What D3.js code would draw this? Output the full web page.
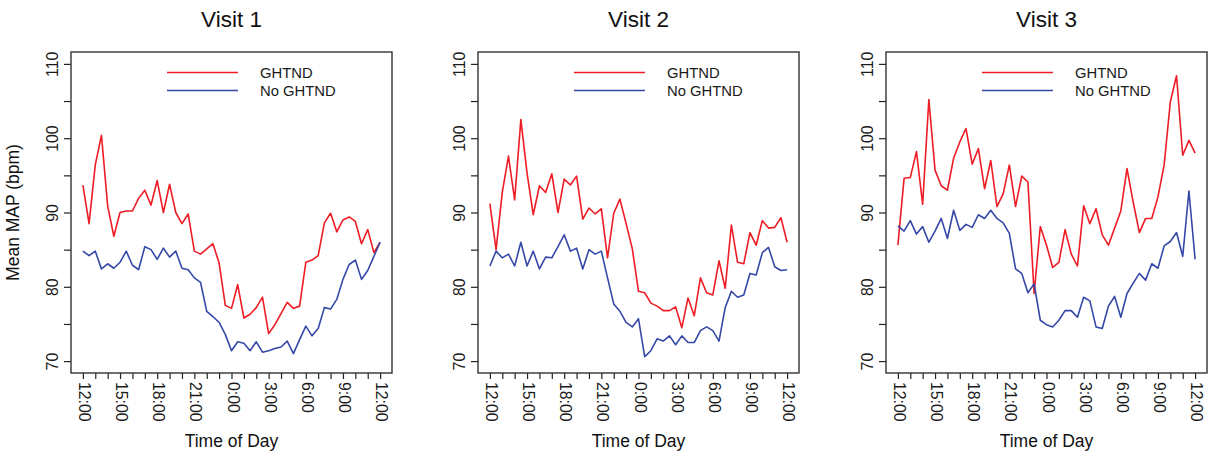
<!DOCTYPE html>
<html>
<head>
<meta charset="utf-8">
<script src="https://cdn.jsdelivr.net/npm/d3@7"></script>
<style>
  body { margin: 0; background: #fff; }
  svg { display: block; font-family: "Liberation Sans", Arial, Helvetica, sans-serif; }
  .axis path { display: none; }
  .axis line { stroke: #222; stroke-width: 1.2; }
  .axis text { fill: #1a1a1a; font-size: 15.8px; }
</style>
</head>
<body>
<svg width="1214" height="458"></svg>
<script>
// half-hourly time points, hours after 12:00
var hours = d3.range(0, 24.5, 0.5);
var hourTicks = d3.range(0, 25);
var timeLabels = { 0: "12:00", 3: "15:00", 6: "18:00", 9: "21:00", 12: "0:00", 15: "3:00", 18: "6:00", 21: "9:00", 24: "12:00" };
var yTicks = [70, 75, 80, 85, 90, 95, 100, 105, 110];
var seriesNames = ["GHTND", "No GHTND"];
var visits = ["Visit 1", "Visit 2", "Visit 3"];

var ghtnd1 = [93.7, 88.5, 96.4, 100.4, 90.9, 86.8, 90.0, 90.2, 90.2, 91.9, 93.0, 91.0, 94.3, 90.0, 93.8, 90.0, 88.5, 89.8, 84.8, 84.4, 85.1, 85.8, 83.2, 77.5, 77.1,
  80.3, 75.8, 76.3, 77.2, 78.6, 73.7, 74.9, 76.4, 77.9, 77.1, 77.4, 83.3, 83.6, 84.2, 88.6, 89.9, 87.4, 89.0, 89.4, 88.8, 85.8, 87.7, 84.6, 86.0];
var noGhtnd1 = [84.8, 84.2, 84.8, 82.4, 83.1, 82.5, 83.3, 84.8, 82.9, 82.3, 85.4, 85.0, 83.7, 85.2, 84.0, 84.8, 82.5, 82.3, 81.2, 80.6, 76.7, 76.0, 75.2, 73.6, 71.4,
  72.6, 72.4, 71.4, 72.6, 71.2, 71.4, 71.7, 71.9, 72.7, 71.0, 72.9, 74.7, 73.4, 74.4, 77.2, 77.0, 78.3, 81.0, 83.0, 83.6, 81.0, 82.2, 84.1, 86.0];

var ghtnd2 = [91.2, 85.0, 92.7, 97.6, 91.7, 102.5, 95.3, 89.7, 93.6, 92.7, 95.2, 90.0, 94.5, 93.7, 94.9, 89.1, 90.6, 89.8, 90.5, 83.9, 89.9, 91.8, 88.5, 85.1, 79.4,
  79.2, 77.8, 77.4, 76.8, 76.8, 77.3, 74.5, 78.5, 76.1, 81.2, 79.2, 78.9, 83.5, 79.8, 88.3, 83.3, 83.1, 87.3, 85.6, 88.9, 87.9, 88.0, 89.3, 86.0];
var noGhtnd2 = [82.8, 84.8, 83.9, 84.4, 82.8, 86.0, 82.8, 84.8, 82.4, 84.0, 83.9, 85.4, 87.0, 84.8, 85.2, 82.4, 85.0, 84.4, 84.8, 81.2, 77.7, 76.7, 75.2, 74.6, 75.7,
  70.6, 71.4, 73.0, 72.7, 73.4, 72.2, 73.4, 72.5, 72.5, 74.1, 74.6, 74.1, 72.7, 77.2, 79.4, 78.6, 78.9, 81.8, 81.6, 84.6, 85.3, 82.7, 82.2, 82.3];

var ghtnd3 = [85.6, 94.6, 94.7, 98.2, 91.1, 105.2, 95.7, 93.6, 93.0, 97.3, 99.5, 101.3, 96.5, 98.6, 93.2, 97.0, 90.8, 92.5, 96.4, 90.8, 94.9, 94.1, 79.1, 88.1, 85.6,
  82.6, 83.3, 87.7, 84.4, 82.8, 90.9, 88.5, 90.5, 87.0, 85.6, 87.9, 90.2, 95.9, 91.4, 87.3, 89.2, 89.2, 92.1, 96.4, 104.9, 108.4, 97.7, 99.7, 98.0];
var noGhtnd3 = [88.2, 87.5, 88.9, 87.1, 88.1, 86.0, 87.5, 89.2, 86.5, 90.3, 87.6, 88.4, 88.0, 89.7, 89.2, 90.3, 89.2, 88.6, 87.2, 82.4, 81.8, 79.2, 80.4, 75.5, 74.9,
  74.6, 75.5, 76.8, 76.8, 75.9, 78.6, 78.1, 74.6, 74.4, 77.4, 78.7, 75.9, 79.1, 80.5, 81.8, 80.9, 83.1, 82.5, 85.5, 86.1, 87.3, 84.1, 92.9, 83.7];

var panels = [[ghtnd1, noGhtnd1], [ghtnd2, noGhtnd2], [ghtnd3, noGhtnd3]];
var colors = ["#ee1c24", "#3548a8"];

var svg = d3.select("svg");
var w = 321, h = 321;
var lefts = [71, 478, 886], topY = 52;

// R style: 4% padding around data range
var x = d3.scaleLinear().domain([-0.96, 24.96]).range([0, w]);
var y = d3.scaleLinear().domain([68.4, 111.6]).range([h, 0]);

var line = d3.line()
    .x(function(d, i) { return x(hours[i]); })
    .y(function(d) { return y(d); });

panels.forEach(function(p, k) {
    var g = svg.append("g")
        .attr("transform", "translate(" + lefts[k] + "," + topY + ")");

    g.append("text")
        .attr("x", w / 2).attr("y", -25)
        .attr("text-anchor", "middle")
        .style("font-size", "22.5px").style("fill", "#111")
        .text(visits[k]);

    var xa = g.append("g")
        .attr("class", "axis x")
        .attr("transform", "translate(0," + h + ")")
        .call(d3.axisBottom(x).tickValues(hourTicks).tickSize(6).tickSizeOuter(0)
            .tickFormat(function(d) { return timeLabels[d] || ""; }));
    xa.selectAll("text")
        .attr("y", 0).attr("dy", null)
        .attr("text-anchor", "start")
        .attr("dominant-baseline", "central")
        .attr("transform", "translate(1,9) rotate(90)");

    var ya = g.append("g")
        .attr("class", "axis y")
        .call(d3.axisLeft(y).tickValues(yTicks).tickSize(7).tickSizeOuter(0)
            .tickFormat(function(d) { return d % 10 === 0 ? d : ""; }));
    ya.selectAll("text")
        .attr("x", 0).attr("dy", null)
        .attr("text-anchor", "middle")
        .attr("dominant-baseline", "central")
        .attr("transform", "translate(-19,0) rotate(-90)");

    g.append("text")
        .attr("x", w / 2).attr("y", h + 74)
        .attr("text-anchor", "middle")
        .style("font-size", "17.5px").style("fill", "#111")
        .text("Time of Day");

    if (k === 0) {
        g.append("text")
            .attr("transform", "translate(-52," + (h / 2) + ") rotate(-90)")
            .attr("text-anchor", "middle")
            .style("font-size", "17.5px").style("fill", "#111")
            .text("Mean MAP (bpm)");
    }

    p.forEach(function(vals, s) {
        g.append("path")
            .datum(vals)
            .attr("fill", "none")
            .attr("stroke", colors[s])
            .attr("stroke-width", 1.6)
            .attr("stroke-linejoin", "round")
            .attr("d", line);
    });

    // legend
    seriesNames.forEach(function(name, s) {
        var ly = 20.5 + s * 18;
        g.append("line")
            .attr("x1", 96).attr("x2", 167)
            .attr("y1", ly).attr("y2", ly)
            .attr("stroke", colors[s]).attr("stroke-width", 1.6);
        g.append("text")
            .attr("x", 189).attr("y", ly)
            .attr("dominant-baseline", "central")
            .style("font-size", "14.8px").style("fill", "#1a1a1a")
            .text(name);
    });

    g.append("rect")
        .attr("width", w).attr("height", h)
        .attr("fill", "none")
        .attr("stroke", "#333").attr("stroke-width", 1.4);
});
</script>
</body>
</html>
